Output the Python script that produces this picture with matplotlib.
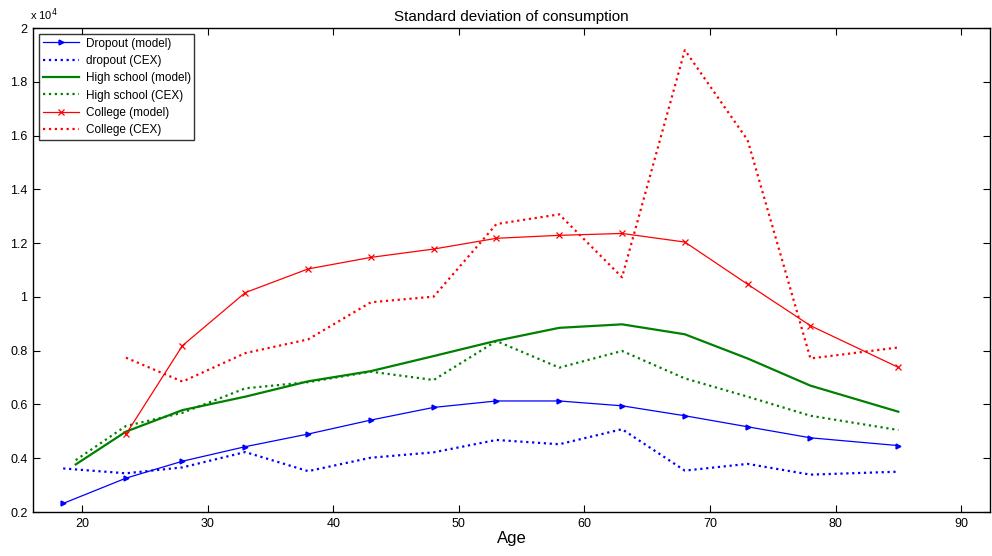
import numpy as np
import matplotlib
matplotlib.use('Agg')
import matplotlib.pyplot as plt

plt.rcParams['font.family'] = ['Liberation Sans', 'DejaVu Sans']

# ages (grid of the model / CEX cells)
age = [18.5, 23.5, 28, 33, 38, 43, 48, 53, 58, 63, 68, 73, 78, 85]
age_hs = [19.5, 23.5, 28, 33, 38, 43, 48, 53, 58, 63, 68, 73, 78, 85]
age_col = [23.5, 28, 33, 38, 43, 48, 53, 58, 63, 68, 73, 78, 85]

# standard deviation of consumption, in units of 1e4
dropout_model = [0.232, 0.326, 0.389, 0.443, 0.490, 0.542, 0.589, 0.613,
                 0.613, 0.595, 0.558, 0.517, 0.476, 0.447]
dropout_cex = [0.362, 0.344, 0.366, 0.423, 0.352, 0.402, 0.422, 0.468,
               0.452, 0.508, 0.354, 0.379, 0.339, 0.350]
hs_model = [0.377, 0.499, 0.579, 0.629, 0.686, 0.724, 0.780, 0.837,
            0.885, 0.898, 0.861, 0.771, 0.670, 0.573]
hs_cex = [0.393, 0.520, 0.569, 0.660, 0.683, 0.722, 0.691, 0.836,
          0.737, 0.799, 0.697, 0.629, 0.558, 0.505]
col_model = [0.489, 0.819, 1.016, 1.104, 1.147, 1.178, 1.218, 1.229,
             1.236, 1.204, 1.047, 0.893, 0.738]
col_cex = [0.774, 0.685, 0.791, 0.842, 0.980, 1.001, 1.271, 1.307,
           1.073, 1.918, 1.583, 0.771, 0.812]

blue = (0, 0, 1)
green = (0, 0.5, 0)
red = (1, 0, 0)

fig = plt.figure(figsize=(9.92, 5.56), dpi=100)
ax = fig.add_axes([0.0333, 0.0791, 0.9647, 0.8705])

ax.plot(age, dropout_model, '-', color=blue, lw=0.9, marker='>',
        ms=3.5, label='Dropout (model)')
ax.plot(age, dropout_cex, ':', color=blue, lw=1.6, label='dropout (CEX)')
ax.plot(age_hs, hs_model, '-', color=green, lw=1.6,
        label='High school (model)')
ax.plot(age_hs, hs_cex, ':', color=green, lw=1.6,
        label='High school (CEX)')
ax.plot(age_col, col_model, '-', color=red, lw=0.9, marker='x',
        ms=4, mew=0.9, label='College (model)')
ax.plot(age_col, col_cex, ':', color=red, lw=1.6, label='College (CEX)')

ax.set_xlim(16.1, 92.3)
ax.set_ylim(0.2, 2.0)
ax.set_xticks(np.arange(20, 91, 10))
ax.set_yticks(np.arange(0.2, 2.01, 0.2))
ax.set_yticklabels(['%g' % round(v, 1) for v in np.arange(0.2, 2.01, 0.2)])
ax.tick_params(direction='in', top=True, right=True, length=5,
               width=0.8, labelsize=9, pad=4)
for s in ax.spines.values():
    s.set_linewidth(1.0)

ax.set_title('Standard deviation of consumption', fontsize=11, pad=5)
ax.set_xlabel('Age', fontsize=12, labelpad=1)
ax.text(-0.003, 1.01, r'x 10$^4$', transform=ax.transAxes, fontsize=8,
        ha='left', va='bottom')

leg = ax.legend(loc='upper left', fontsize=8.5, frameon=True, fancybox=False,
                edgecolor='black', handlelength=3.1, borderpad=0.3,
                labelspacing=0.45, handletextpad=0.55, borderaxespad=0,
                bbox_to_anchor=(0.0063, 0.9875))
leg.get_frame().set_linewidth(1.0)

fig.savefig('out.png', dpi=100)
